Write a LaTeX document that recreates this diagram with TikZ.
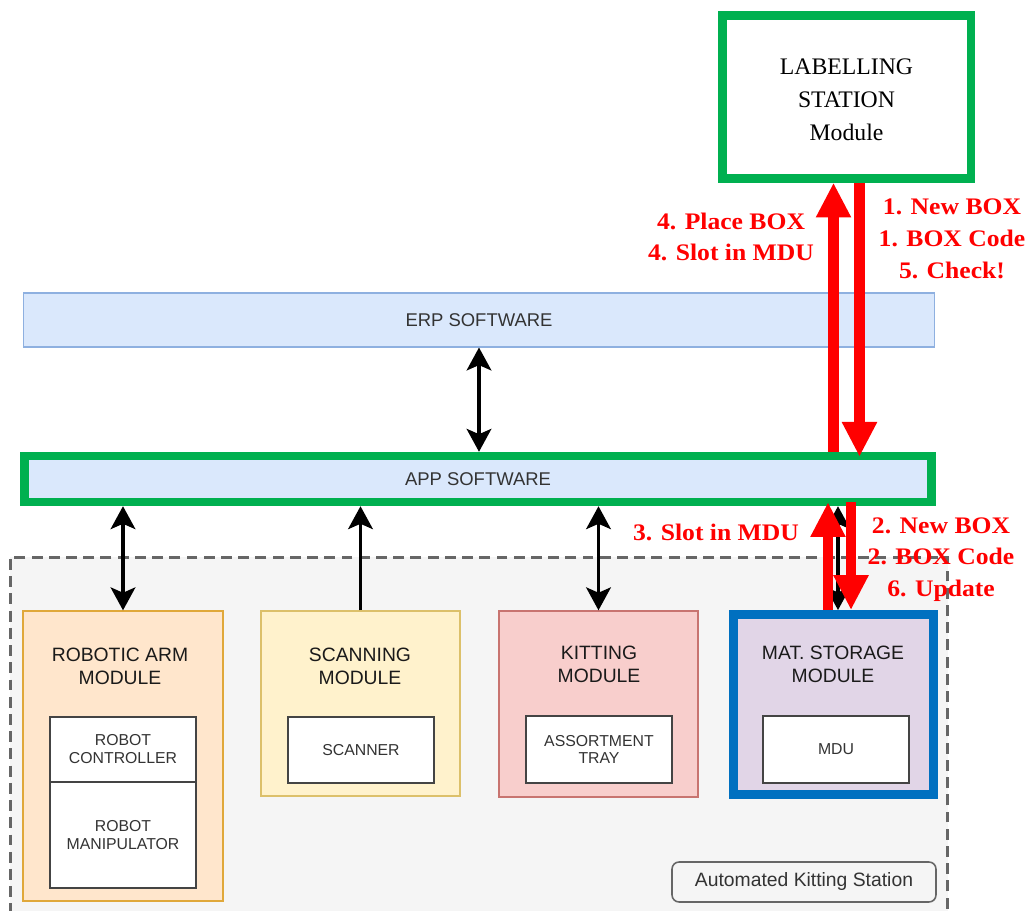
\documentclass[tikz,border=0pt]{standalone}
\usepackage{fontspec}
\setmainfont{Liberation Serif}
\newfontfamily\sfont{Liberation Sans}
\newfontfamily\rfont[FakeStretch=1.08]{Liberation Serif}
\usetikzlibrary{arrows.meta,calc}
\definecolor{cgreen}{HTML}{00B050}
\definecolor{cblue}{HTML}{0070C0}
\definecolor{swfill}{HTML}{DAE8FC}
\definecolor{swline}{HTML}{8EB0E0}
\definecolor{contfill}{HTML}{F5F5F5}
\definecolor{contline}{HTML}{666666}
\definecolor{robfill}{HTML}{FFE6CC}
\definecolor{robline}{HTML}{E0A83A}
\definecolor{scanfill}{HTML}{FFF2CC}
\definecolor{scanline}{HTML}{DCC06A}
\definecolor{kitfill}{HTML}{F8CECC}
\definecolor{kitline}{HTML}{C87470}
\definecolor{matfill}{HTML}{E1D5E7}
\definecolor{innerline}{HTML}{444444}
\definecolor{txtdark}{HTML}{1A1A1A}
\definecolor{txtgray}{HTML}{333333}
\begin{document}
\begin{tikzpicture}[x=0.02cm,y=-0.02cm,
  labbox/.style={draw=cgreen,line width=5.1pt,fill=white,minimum width=4.98cm,minimum height=3.25cm,inner sep=0pt},
  labtxt/.style={align=center,inner sep=0pt,font=\fontsize{13.5}{18.7}\selectfont,text=black},
  swbox/.style={fill=swfill,minimum height=1.08cm,inner sep=0pt,
    font=\sfont\fontsize{10.5}{12}\selectfont,text=txtgray},
  contbox/.style={draw=contline,fill=contfill,line width=1.7pt,dash pattern=on 6.2pt off 3.6pt,
    minimum width=18.76cm,minimum height=7.56cm,inner sep=0pt},
  modbox/.style={line width=0.8pt,minimum width=3.98cm,minimum height=3.7cm,inner sep=0pt},
  ttl/.style={align=center,inner sep=0pt,font=\sfont\fontsize{11}{13}\selectfont,text=txtdark},
  innerbox/.style={draw=innerline,line width=0.9pt,fill=white,minimum width=2.92cm,minimum height=1.32cm,
    align=center,inner sep=0pt,font=\sfont\fontsize{9}{10.2}\selectfont,text=txtgray},
  akslabel/.style={draw=contline,line width=0.9pt,rounded corners=4pt,fill=contfill,
    minimum width=5.28cm,minimum height=0.8cm,inner sep=0pt,font=\sfont\fontsize{11}{13}\selectfont,text=txtgray},
  rtxt/.style={align=center,inner sep=0pt,text=red,font=\rfont\bfseries\fontsize{13.5}{18.1}\selectfont},
  bdbl/.style={line width=2.1pt,arrows={Stealth[length=13pt,width=14pt,inset=3pt]-Stealth[length=13pt,width=14pt,inset=3pt]}},
  bsgl/.style={line width=2.1pt,arrows={-Stealth[length=13pt,width=14pt,inset=3pt]}},
  rarrow/.style={draw=red,line width=6.2pt,arrows={-Triangle[width=18.7pt,length=19.8pt]}}
]
\useasboundingbox (0,0) rectangle (1028,911);
\clip (0,0) rectangle (1028,911);
\fill[white] (0,0) rectangle (1028,911);

% container
\node[contbox] (aks) at (479,746) {};

% modules
\node[modbox,draw=robline,fill=robfill,minimum width=4cm,minimum height=5.8cm] (rob) at (123,756) {};
\node[modbox,draw=scanline,fill=scanfill] (scan) at (360.5,703.5) {};
\node[modbox,draw=kitline,fill=kitfill,minimum height=3.72cm] (kit) at (598.5,704) {};
\node[modbox,draw=cblue,fill=matfill,line width=5.1pt,minimum width=4cm,minimum height=3.6cm] (mat) at (833.5,704.5) {};

% titles
\node[ttl] (robt) at (120,666) {ROBOTIC ARM\\MODULE};
\node[ttl] (scant) at (360,666) {SCANNING\\MODULE};
\node[ttl] (kitt) at (599,664) {KITTING\\MODULE};
\node[ttl] (matt) at (833,664) {MAT. STORAGE\\MODULE};

% inner boxes
\node[innerbox,minimum height=1.3cm] (rctl) at (123,749.5) {ROBOT\\CONTROLLER};
\node[innerbox,minimum height=2.12cm] (rman) at (123,835) {ROBOT\\MANIPULATOR};
\node[innerbox] (scanner) at (361,750) {SCANNER};
\node[innerbox,minimum height=1.34cm] (tray) at (599,749.5) {ASSORTMENT\\TRAY};
\node[innerbox,minimum height=1.34cm] (mdu) at (836,749.5) {MDU};

% label of container
\node[akslabel] (aksl) at (804,882) {Automated Kitting Station};

% software layers
\node[swbox,draw=swline,line width=0.6pt,minimum width=18.24cm] (erp) at (479,320) {ERP SOFTWARE};
\node[swbox,draw=cgreen,line width=4.8pt,minimum width=18.15cm,minimum height=0.92cm] (app) at (478,479) {APP SOFTWARE};

% labelling station
\node[labbox] (lab) at (846.5,97) {};
\node[labtxt] (labt) at (846.5,100) {LABELLING\\STATION\\Module};

% helper x positions
\coordinate (xa) at (833.5,0);
\coordinate (xb) at (859.5,0);
\coordinate (xc) at (828,0);
\coordinate (xd) at (851,0);
\coordinate (xm) at (838,0);

% black connectors
\draw[bdbl] (erp.south) -- (app.north -| erp.south);
\draw[bdbl] (app.south -| rob.north) -- (rob.north);
\draw[bsgl] (scan.north) -- (app.south -| scan.north);
\draw[bdbl] (app.south -| kit.north) -- (kit.north);
\draw[bdbl] (app.south -| xm) -- (mat.north -| xm);

% red connectors
\draw[rarrow] (app.north -| xa) -- (lab.south -| xa);
\draw[rarrow] (lab.south -| xb) -- ($(app.north -| xb)+(0,5)$);
\draw[rarrow] (mat.north -| xc) -- ($(app.south -| xc)+(0,-4)$);
\draw[rarrow] ($(app.south -| xd)+(0,-4)$) -- (mat.north -| xd);

% red labels
\node[rtxt] (l4) at (731,237) {4. Place BOX\\4. Slot in MDU};
\node[rtxt] (l1) at (952,239) {1. New BOX\\1. BOX Code\\5. Check!};
\node[rtxt] (l3) at (716,532) {3. Slot in MDU};
\node[rtxt] (l2) at (941,559.5) {2. New BOX\\2. BOX Code\\6. Update};
\end{tikzpicture}
\end{document}
